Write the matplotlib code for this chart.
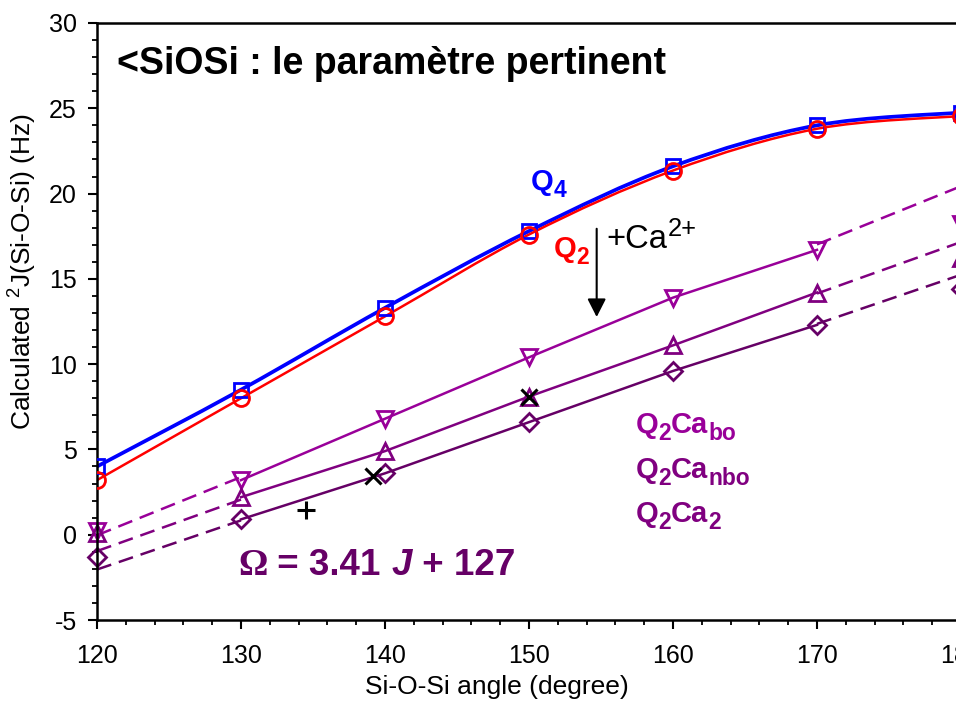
import matplotlib.pyplot as plt
import numpy as np
from matplotlib.path import Path
from matplotlib.patches import PathPatch

plt.rcParams['font.family'] = ['Liberation Sans', 'DejaVu Sans']
plt.rcParams['mathtext.fontset'] = 'custom'
plt.rcParams['mathtext.rm'] = 'Liberation Sans'
plt.rcParams['mathtext.it'] = 'Liberation Sans:italic'
plt.rcParams['mathtext.bf'] = 'Liberation Sans:bold'
plt.rcParams['axes.unicode_minus'] = False

# Si-O-Si angle (degree)
angles = [120, 130, 140, 150, 160, 170, 180]
q4 = [4.0, 8.5, 13.3, 17.8, 21.6, 24.0, 24.75]
q2 = [3.2, 8.0, 12.8, 17.6, 21.35, 23.8, 24.55]

ca_angles = [130, 140, 150, 160, 170]
q2ca_bo = [3.2, 6.8, 10.4, 13.9, 16.7]
q2ca_nbo = [2.2, 4.9, 8.1, 11.1, 14.2]
q2ca2 = [0.9, 3.6, 6.6, 9.6, 12.3]

end_angles = [120, 180]
q2ca_bo_end = [0.2, 18.2]
q2ca_nbo_end = [0.1, 16.2]
q2ca2_end = [-1.3, 14.4]

cross_x = [139.2, 150.0]
cross_y = [3.45, 8.1]
plus_x = [134.5]
plus_y = [1.45]

c_bo = '#990099'
c_nbo = '#800080'
c_ca2 = '#660066'


def smooth_line(ax, x, y, color, lw):
    # excel-like smoothed line (catmull-rom drawn as bezier segments)
    pts = np.column_stack([x, y]).astype(float)
    n = len(pts)
    verts = [pts[0]]
    codes = [Path.MOVETO]
    for i in range(n - 1):
        p0 = pts[max(i - 1, 0)]
        p1 = pts[i]
        p2 = pts[i + 1]
        p3 = pts[min(i + 2, n - 1)]
        verts += [p1 + (p2 - p0) / 6, p2 - (p3 - p1) / 6, p2]
        codes += [Path.CURVE4] * 3
    ax.add_patch(PathPatch(Path(verts, codes), facecolor='none',
                           edgecolor=color, lw=lw, zorder=2))


def rich(ax, x, y, parts, size, color, weight='bold'):
    # chain text pieces; kind is 'n', 'sub' or 'sup'
    prev = None
    prev_off = 0
    for txt, kind, extra in parts:
        fs = size if kind == 'n' else size * 0.78
        off = {'n': 0, 'sub': -0.2 * size, 'sup': 0.42 * size}[kind]
        kw = dict(fontsize=fs, color=color, fontweight=weight)
        kw.update(extra)
        if prev is None:
            prev = ax.text(x, y, txt, va='baseline', **kw)
        else:
            prev = ax.annotate(txt, xy=(1, 0), xycoords=prev,
                               xytext=(0, off - prev_off),
                               textcoords='offset points', va='bottom', **kw)
        prev_off = off


fig = plt.figure(figsize=(9.56, 7.05), dpi=100)
ax = fig.add_axes([97 / 956, 85 / 705, 864 / 956, 597 / 705])

smooth_line(ax, angles, q4, '#0000ff', 2.7)
smooth_line(ax, angles, q2, '#ff0000', 1.8)
ax.plot(angles, q4, 's', ms=10.5, mfc='none', mec='#0000ff', mew=2, zorder=3)
ax.plot(angles, q2, 'o', ms=11.5, mfc='none', mec='#ff0000', mew=2, zorder=4)

for vals, ends, col, mk, ms in [(q2ca_bo, q2ca_bo_end, c_bo, 'v', 12),
                                (q2ca_nbo, q2ca_nbo_end, c_nbo, '^', 12),
                                (q2ca2, q2ca2_end, c_ca2, 'D', 9)]:
    k, b = np.polyfit(ca_angles, vals, 1)
    for xa, xb in [(120, 130), (170, 182)]:
        xs = np.array([xa, xb])
        ax.plot(xs, k * xs + b, '--', color=col, lw=1.8, dashes=(6, 3.2))
    ax.plot(ca_angles, vals, '-', color=col, lw=1.8,
            marker=mk, ms=ms, mfc='none', mec=col, mew=2)
    ax.plot(end_angles, ends, mk, ms=ms, mfc='none', mec=col, mew=2,
            clip_on=False)

ax.plot(cross_x, cross_y, 'x', color='black', ms=11, mew=2.2)
ax.plot(plus_x, plus_y, '+', color='black', ms=13, mew=2.2)

ax.annotate('', xy=(154.7, 12.6), xytext=(154.7, 18.1),
            arrowprops=dict(arrowstyle='-|>,head_width=0.28,head_length=0.55',
                            mutation_scale=20, color='black', lw=1.5))

ax.text(121.4, 27.0, '<SiOSi : le paramètre pertinent', fontsize=27,
        fontweight='bold', va='baseline')

rich(ax, 150.1, 20.2, [('Q', 'n', {}), ('4', 'sub', {})], 21, '#0000ff')
rich(ax, 151.7, 16.3, [('Q', 'n', {}), ('2', 'sub', {})], 21, '#ff0000')
rich(ax, 155.4, 16.8, [('+Ca', 'n', {}), ('2+', 'sup', {})], 23.5, 'black',
     weight='normal')
rich(ax, 157.4, 5.96, [('Q', 'n', {}), ('2', 'sub', {}), ('Ca', 'n', {}),
                       ('bo', 'sub', {})], 21, c_bo)
rich(ax, 157.4, 3.32, [('Q', 'n', {}), ('2', 'sub', {}), ('Ca', 'n', {}),
                       ('nbo', 'sub', {})], 21, c_nbo)
rich(ax, 157.4, 0.74, [('Q', 'n', {}), ('2', 'sub', {}), ('Ca', 'n', {}),
                       ('2', 'sub', {})], 21, c_nbo)
rich(ax, 129.8, -2.36, [('Ω', 'n', {'family': 'Liberation Serif'}),
                        (' = 3.41 ', 'n', {}),
                        ('J', 'n', {'fontstyle': 'italic'}),
                        (' + 127', 'n', {})], 26.5, c_ca2)

ax.set_xlim(120, 180)
ax.set_ylim(-5, 30)
ax.set_xticks(np.arange(120, 181, 10))
ax.set_xticks(np.arange(120, 181, 2), minor=True)
ax.set_yticks(np.arange(-5, 31, 5))
ax.set_yticks(np.arange(-5, 31, 1), minor=True)
ax.tick_params(which='major', direction='out', length=6.5, width=1.5,
               labelsize=18)
ax.tick_params(which='minor', direction='out', length=3.5, width=1.3)
ax.tick_params(axis='x', which='major', pad=11)
ax.tick_params(axis='y', which='major', pad=8)
for side in ['left', 'bottom', 'top']:
    ax.spines[side].set_linewidth(1.8)
ax.spines['right'].set_visible(False)

ax.set_xlabel('Si-O-Si angle (degree)', fontsize=19)
ax.xaxis.label.set_va('baseline')
ax.xaxis.set_label_coords((497 - 97) / 864, (620 - 694) / 597)
ax.set_ylabel('Calculated $^2$J(Si-O-Si) (Hz)', fontsize=19)
ax.yaxis.label.set_va('center')
ax.yaxis.set_label_coords((23 - 97) / 864, (620 - 272) / 597)

fig.savefig('out.png', dpi=100)
